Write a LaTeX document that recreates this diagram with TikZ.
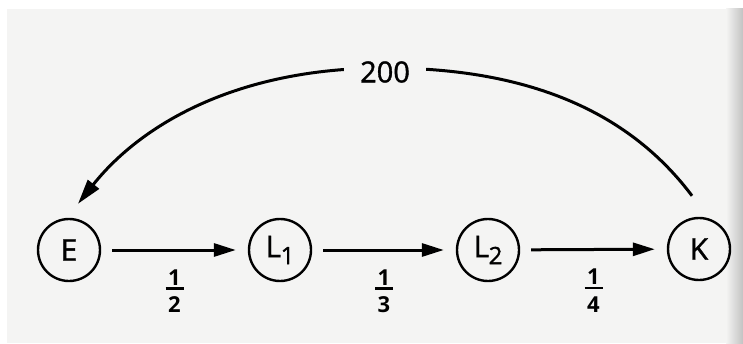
\documentclass[tikz,border=0pt]{standalone}
\usepackage{fontspec}
\setmainfont{Open Sans}
\newfontfamily\heavy[FakeBold=1.3]{Open Sans}
\usetikzlibrary{arrows.meta,calc}
\definecolor{paper}{RGB}{244,244,243}
% stacked fraction with a short bold bar
\newcommand\stackfrac[2]{\vbox{\hbox to 18pt{\hss#1\hss}\kern2pt\hrule height 2.6pt\kern7pt\hbox to 18pt{\hss#2\hss}}}
% state name with a lowered index
\newcommand\idx[2]{#1\kern-0.5pt\raisebox{-7pt}{\fontsize{24}{24}\selectfont #2}}

\begin{document}
\begin{tikzpicture}[x=1pt,y=1pt,
  state/.style={circle,draw,line width=2.4pt,minimum size=62pt,inner sep=0pt,
    font=\heavy\fontsize{30}{30}\selectfont},
  flow/.style={line width=3pt,-{Triangle[length=22pt,width=13pt]},
    shorten <=11pt,shorten >=12pt},
  rate/.style={font=\bfseries\fontsize{22}{22}\selectfont,inner sep=0pt,
    below=18pt,midway},
  back/.style={line width=3pt,-{Triangle[length=25pt,width=14pt]}},
  tag/.style={fill=paper,inner xsep=16pt,inner ysep=4pt,
    font=\heavy\fontsize{29}{29}\selectfont}
]
% paper
\fill[white] (0,0) rectangle (743,343);
\fill[paper] (7,0) rectangle (743,334);
\shade[left color=paper,right color=black!24] (726,0) rectangle (743,334);
\useasboundingbox (0,0) rectangle (743,343);

% states
\node[state] (E)  at (69,93)  {E};
\node[state] (L1) at (280,93) {\idx{L}{1}};
\node[state] (L2) at (488,93) {\idx{L}{2}};
\node[state] (K)  at (699,94) {K};

% forward transitions
\draw[flow] (E)  -- node[rate] {\stackfrac{1}{2}} (L1);
\draw[flow] (L1) -- node[rate] {\stackfrac{1}{3}} (L2);
\draw[flow] (L2) -- node[rate] {\stackfrac{1}{4}} (K);

% return path from K back to E
\coordinate (kstart) at ($(K.north)+(-7,21)$);
\coordinate (crest)  at (385,275);
\coordinate (etip)   at ($(E.north)+(9,14)$);
\draw[back] (kstart) .. controls +(-60,80) and +(150,0) .. (crest)
                     .. controls +(-150,0) and +(62,78) .. (etip);
\node[tag] (amount) at (385,271) {200};
\end{tikzpicture}
\end{document}
